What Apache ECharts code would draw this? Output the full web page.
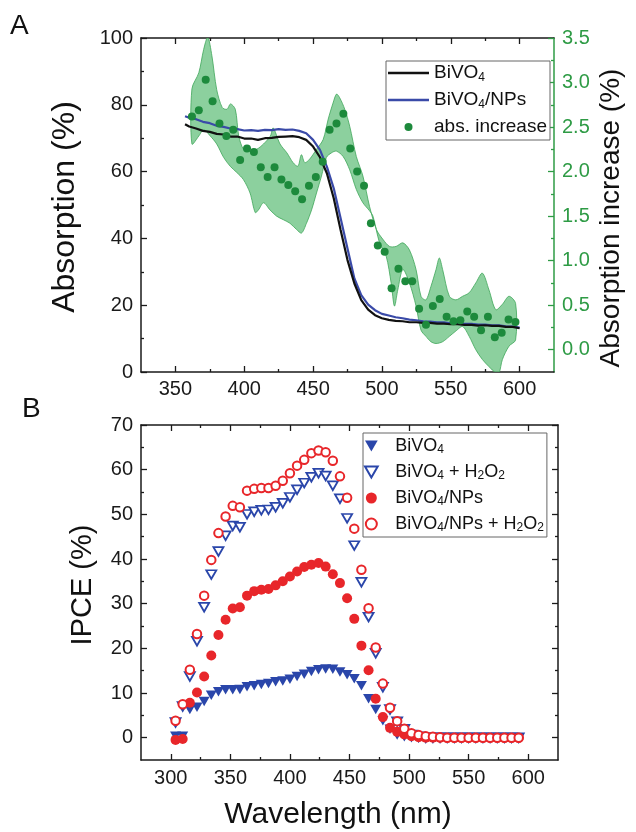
<!DOCTYPE html>
<html><head><meta charset="utf-8">
<script src="https://cdn.jsdelivr.net/npm/echarts@6.0.0/dist/echarts.min.js"></script>
<style>html,body{margin:0;padding:0;background:#fff}#c{width:636px;height:832px}</style>
</head><body><div id="c"></div>
<script>
// ---------- Panel A data ----------
const absWl = [357,360,365,370,375,380,385,390,395,400,405,410,415,420,425,430,435,440,445,450,455,460,465,470,475,480,485,490,495,500,505,510,515,520,525,530,535,540,545,550,555,560,565,570,575,580,585,590,595,600];
const absBiVO4 = [74.2,73.5,72.9,72.2,71.9,71.3,71.1,70.5,70.5,69.9,69.9,69.5,70.0,70.1,70.4,70.5,70.6,70.3,69.5,67.5,64.3,59.5,52.0,42.5,33.5,26.5,21.5,18.7,17.0,16.1,15.6,15.3,15.2,14.9,14.9,14.7,14.7,14.5,14.5,14.3,14.3,14.1,14.1,13.9,14.0,13.8,13.8,13.5,13.5,13.1];
const absNPs = [76.6,76.1,75.7,74.9,74.5,73.7,73.4,72.9,72.7,72.3,72.4,72.2,72.5,72.4,72.7,72.5,72.6,72.2,71.5,69.5,66.5,61.5,55.0,46.0,37.0,28.0,23.0,20.2,18.5,17.4,16.9,16.4,16.1,15.7,15.5,15.2,15.1,14.9,14.9,14.6,14.6,14.4,14.4,14.2,14.2,14.0,14.0,13.7,13.6,13.3];
const incWl = [362,367,372,377,382,387,392,397,402,407,412,417,422,427,432,437,442,447,452,457,462,467,472,477,482,487,492,497,502,507,512,517,522,527,532,537,542,547,552,557,562,567,572,577,582,587,592,597];
const incValues = [2.62,2.69,3.03,2.79,2.54,2.40,2.47,2.13,2.26,2.22,2.05,1.94,2.05,1.91,1.85,1.78,1.69,1.84,1.94,2.11,2.47,2.54,2.65,2.26,2.00,1.84,1.42,1.17,1.10,0.69,0.91,0.77,0.77,0.46,0.28,0.49,0.57,0.37,0.32,0.33,0.43,0.37,0.22,0.37,0.14,0.19,0.34,0.31];
const bandUpperWl = [362,367,370.5,373.5,376.5,380,384,387.5,390,393.5,396,399.5,404,409,414,419,421,426,431,435.5,439,441.5,444,447.5,452.5,457.3,461,464.5,467,469.3,473,476.6,481.4,486.2,491,496,500.7,505.5,510.3,515.2,520,524.8,528.4,532,535.6,539.3,541.7,544.1,549,553.7,558.6,563.4,568.2,573,577.8,582.7,587.5,592.3,597.1];
const bandUpperVal = [2.93,3.11,3.37,3.51,3.30,2.92,2.72,2.70,2.76,2.70,2.40,2.25,2.23,2.25,2.31,2.40,2.49,2.31,2.21,2.10,2.06,2.19,2.10,2.14,2.25,2.36,2.59,2.77,2.87,2.83,2.70,2.51,2.17,1.95,1.61,1.35,1.24,1.16,1.16,1.20,1.12,0.90,0.60,0.56,0.71,0.90,1.03,0.90,0.60,0.56,0.60,0.64,0.75,0.86,0.67,0.45,0.51,0.60,0.52];
const bandLowerWl = [362,367,370.5,375.3,380,385,389.8,394.6,399.4,404.2,408,410.3,414,418.7,423.5,428.4,433.2,438,441.6,445.2,448.9,452.5,456.1,459.7,463.3,466.9,471.8,476.6,481.4,486.2,491,493.5,498.3,503.1,506.7,509.1,511.5,515.2,520,524.8,528.4,532,535.6,539.3,544.1,549,553.7,558.6,563.4,568.2,573,577.8,582.7,585.1,587.5,592.3,597.1];
const bandLowerVal = [2.31,2.40,2.47,2.40,2.31,2.16,2.06,1.99,1.91,1.76,1.54,1.57,1.65,1.57,1.50,1.46,1.42,1.35,1.31,1.42,1.57,1.76,1.95,2.16,2.21,2.23,2.17,2.02,1.80,1.65,1.56,1.50,1.20,1.05,0.75,0.49,0.67,0.90,0.75,0.49,0.22,0.15,0.09,0.07,0.09,0.15,0.21,0.26,0.15,0.00,-0.11,-0.19,-0.26,-0.26,-0.11,0.04,0.11];

// ---------- Panel B data ----------
const ipceWl = [304,310,316,322,328,334,340,346,352,358,364,370,376,382,388,394,400,406,412,418,424,430,436,442,448,454,460,466,472,478,484,490,496,502,508,514,520,526,532,538,544,550,556,562,568,574,580,586,592];
const ipceBiVO4 = [0.3,0.3,6.3,6.8,8.1,9.5,10.3,10.7,10.7,10.8,11.4,11.6,11.9,12.1,12.5,12.7,13.1,13.7,14.2,14.8,15.2,15.4,15.3,14.7,14.1,13.2,11.6,8.7,6.3,3.8,1.9,0.6,0.2,0.0,-0.1,-0.1,-0.1,-0.1,-0.1,-0.1,-0.1,-0.1,-0.1,-0.1,-0.1,-0.1,-0.1,-0.1,-0.1];
const ipceBiVO4H2O2 = [3.4,7.0,13.7,21.6,29.2,36.5,41.7,45.2,47.4,47.1,50.0,50.6,50.9,51.0,51.6,52.5,53.8,55.5,57.0,58.3,59.2,58.6,56.4,53.5,49.1,43.0,34.8,27.0,18.9,11.3,6.3,3.6,1.9,0.6,0.2,0.0,0.0,0.0,0.0,0.0,0.0,0.0,0.0,0.0,0.0,0.0,0.0,0.0,0.0];
const ipceNPs = [-0.5,-0.3,7.8,10.1,13.7,18.4,23.0,26.4,28.9,29.2,31.8,32.8,33.1,33.3,34.1,35.0,36.1,37.2,38.2,38.7,39.1,38.3,36.6,34.6,31.2,26.6,20.6,15.1,8.7,4.6,2.2,1.3,0.7,0.3,0.1,0.0,0.0,0.0,0.0,0.0,0.0,0.0,0.0,0.0,0.0,0.0,0.0,0.0,0.0];
const ipceNPsH2O2 = [3.8,7.5,15.2,23.2,31.8,39.8,45.8,49.5,51.9,51.6,55.3,55.7,55.9,55.9,56.4,57.5,59.2,60.9,62.2,63.7,64.3,63.9,62.0,58.5,53.7,46.8,37.6,29.0,20.2,12.1,6.7,3.7,2.0,1.0,0.6,0.3,0.2,0.1,0.0,0.0,0.0,0.0,0.0,0.0,0.0,0.0,0.0,0.0,0.0];

// ---------- tick values ----------
const xTicksA = [350,400,450,500,550,600];
const xMinorA = [375,425,475,525,575];
const yTicksA = [0,20,40,60,80,100];
const yMinorA = [10,30,50,70,90];
const yTicksAR = [0,0.5,1.0,1.5,2.0,2.5,3.0,3.5];
const yMinorAR = [0.25,0.75,1.25,1.75,2.25,2.75,3.25];
const xTicksB = [300,350,400,450,500,550,600];
const xMinorB = [325,375,425,475,525,575];
const yTicksB = [0,10,20,30,40,50,60,70];
const yMinorB = [5,15,25,35,45,55,65];

const FONT = '"Liberation Sans", Arial, Helvetica, sans-serif';
const INK = '#1a1a1a';
const GREEN = '#2e9b45';
const BLUE_LINE = '#3a4aa8';
const BLUE = '#2a46aa';
const RED = '#e8262a';

function zip(a, b) { return a.map((v, i) => [v, b[i]]); }

function mkAxis(grid, pos, min, max, ticks, len, o) {
  o = o || {};
  const color = o.color || INK;
  return {
    type: 'value', gridIndex: grid, position: pos, min: min, max: max,
    splitLine: { show: false },
    axisLine: { show: !!o.line, onZero: false, lineStyle: { color: color, width: 1.5 } },
    axisTick: { show: true, inside: true, length: len, customValues: ticks, lineStyle: { color: color, width: 1.3 } },
    axisLabel: o.labels ? {
      show: true, customValues: ticks, fontSize: o.fontSize || 20, color: o.labelColor || INK,
      fontFamily: FONT, margin: o.margin || 8, formatter: o.formatter
    } : { show: false },
    axisPointer: { show: false }
  };
}

const richBase = (fs, lh) => ({
  t: { fontSize: fs, lineHeight: lh, fontFamily: FONT, color: '#111' },
  s: { fontSize: Math.round(fs * 0.65), lineHeight: Math.round(lh * 0.45), verticalAlign: 'bottom', fontFamily: FONT, color: '#111' }
});
const legendLabels = {
  'A_BiVO4': '{t|BiVO}{s|4}',
  'A_NPs': '{t|BiVO}{s|4}{t|/NPs}',
  'A_inc': '{t|abs. increase}',
  'B_BiVO4': '{t|BiVO}{s|4}',
  'B_BiVO4H2O2': '{t|BiVO}{s|4}{t| + H}{s|2}{t|O}{s|2}',
  'B_NPs': '{t|BiVO}{s|4}{t|/NPs}',
  'B_NPsH2O2': '{t|BiVO}{s|4}{t|/NPs + H}{s|2}{t|O}{s|2}'
};

const triDown = 'path://M0,0L10,0L5,8.66Z';
const lineIcon = 'path://M0,0L40,0L40,2.2L0,2.2Z';

const chart = echarts.init(document.getElementById('c'), null, { renderer: 'canvas' });
chart.setOption({
  animation: false,
  backgroundColor: '#fff',
  grid: [
    { left: 141, top: 38, width: 413, height: 334, containLabel: false },
    { left: 141, top: 425, width: 417, height: 335, containLabel: false }
  ],
  xAxis: [
    mkAxis(0, 'bottom', 325, 625, xTicksA, 6, { line: true, labels: true, margin: 7 }),
    mkAxis(0, 'bottom', 325, 625, xMinorA, 3, {}),
    mkAxis(0, 'top', 325, 625, xTicksA, 6, { line: true }),
    mkAxis(0, 'top', 325, 625, xMinorA, 3, {}),
    mkAxis(1, 'bottom', 275, 625, xTicksB, 6, { line: true, labels: true, margin: 8 }),
    mkAxis(1, 'bottom', 275, 625, xMinorB, 3, {}),
    mkAxis(1, 'top', 275, 625, xTicksB, 6, { line: true }),
    mkAxis(1, 'top', 275, 625, xMinorB, 3, {})
  ],
  yAxis: [
    mkAxis(0, 'left', 0, 100, yTicksA, 6, { line: true, labels: true, margin: 8 }),
    mkAxis(0, 'left', 0, 100, yMinorA, 3, {}),
    mkAxis(0, 'right', -0.25, 3.5, yTicksAR, 6, { line: true, labels: true, color: GREEN, labelColor: GREEN, margin: 8, formatter: v => Number(v).toFixed(1) }),
    mkAxis(0, 'right', -0.25, 3.5, yMinorAR, 3, { color: GREEN }),
    mkAxis(1, 'left', -5, 70, yTicksB, 6, { line: true, labels: true, margin: 8 }),
    mkAxis(1, 'left', -5, 70, yMinorB, 3, {}),
    mkAxis(1, 'right', -5, 70, yTicksB, 6, { line: true }),
    mkAxis(1, 'right', -5, 70, yMinorB, 3, {})
  ],
  legend: [
    {
      orient: 'vertical', left: 386, top: 61, padding: [1, 3, 2, 2], itemGap: 5,
      itemWidth: 41, itemHeight: 8, selectedMode: false,
      backgroundColor: '#fff', borderColor: '#666', borderWidth: 1,
      data: [
        { name: 'A_BiVO4', icon: lineIcon },
        { name: 'A_NPs', icon: lineIcon },
        { name: 'A_inc', icon: 'circle' }
      ],
      formatter: n => legendLabels[n],
      textStyle: { fontFamily: FONT, fontSize: 19, lineHeight: 22, color: '#111', rich: richBase(19, 22) }
    },
    {
      orient: 'vertical', left: 363, top: 433, padding: [3, 3, 3, 1], itemGap: 6,
      itemWidth: 38, itemHeight: 11, selectedMode: false,
      backgroundColor: '#fff', borderColor: '#666', borderWidth: 1,
      data: ['B_BiVO4', 'B_BiVO4H2O2', 'B_NPs', 'B_NPsH2O2'],
      formatter: n => legendLabels[n],
      textStyle: { fontFamily: FONT, fontSize: 18, lineHeight: 20, color: '#111', rich: richBase(18, 20) }
    }
  ],
  series: [
    {
      type: 'custom', name: 'band', xAxisIndex: 0, yAxisIndex: 2, z: 1,
      data: [[bandUpperWl[0], bandUpperVal[0]]],
      renderItem: function (params, api) {
        const up = bandUpperWl.map((w, i) => api.coord([w, bandUpperVal[i]]));
        const lo = bandLowerWl.map((w, i) => api.coord([w, bandLowerVal[i]])).reverse();
        const cs = params.coordSys;
        return {
          type: 'polygon',
          shape: { points: up.concat(lo), smooth: 0.3 },
          style: { fill: 'rgba(95,190,120,0.72)', stroke: '#3fa659', lineWidth: 0.8 },
          clipPath: { type: 'rect', shape: { x: cs.x, y: cs.y, width: cs.width, height: cs.height } }
        };
      }
    },
    {
      type: 'line', name: 'A_BiVO4', xAxisIndex: 0, yAxisIndex: 0, z: 3,
      data: zip(absWl, absBiVO4), symbol: 'none', color: '#111',
      lineStyle: { color: '#111', width: 2.2 }
    },
    {
      type: 'line', name: 'A_NPs', xAxisIndex: 0, yAxisIndex: 0, z: 2,
      data: zip(absWl, absNPs), symbol: 'none', color: BLUE_LINE,
      lineStyle: { color: BLUE_LINE, width: 2.2 }
    },
    {
      type: 'scatter', name: 'A_inc', xAxisIndex: 0, yAxisIndex: 2, z: 4,
      data: zip(incWl, incValues), symbol: 'circle', symbolSize: 8,
      itemStyle: { color: '#1d8a3c', opacity: 1 }
    },
    {
      type: 'scatter', name: 'B_BiVO4', xAxisIndex: 4, yAxisIndex: 4, z: 2,
      data: zip(ipceWl, ipceBiVO4), symbol: triDown, symbolSize: [11, 9.5],
      itemStyle: { color: BLUE, opacity: 1 }
    },
    {
      type: 'scatter', name: 'B_BiVO4H2O2', xAxisIndex: 4, yAxisIndex: 4, z: 3,
      data: zip(ipceWl, ipceBiVO4H2O2), symbol: triDown, symbolSize: [10, 8.7],
      itemStyle: { color: '#fff', borderColor: BLUE, borderWidth: 1.8, opacity: 1 }
    },
    {
      type: 'scatter', name: 'B_NPs', xAxisIndex: 4, yAxisIndex: 4, z: 4,
      data: zip(ipceWl, ipceNPs), symbol: 'circle', symbolSize: 10,
      itemStyle: { color: RED, opacity: 1 }
    },
    {
      type: 'scatter', name: 'B_NPsH2O2', xAxisIndex: 4, yAxisIndex: 4, z: 5,
      data: zip(ipceWl, ipceNPsH2O2), symbol: 'circle', symbolSize: 8.5,
      itemStyle: { color: '#fff', borderColor: RED, borderWidth: 2, opacity: 1 }
    }
  ],
  graphic: [
    { type: 'text', left: 10, top: 12, style: { text: 'A', fontSize: 28, fontFamily: FONT, fill: '#111' } },
    { type: 'text', left: 22, top: 395, style: { text: 'B', fontSize: 28, fontFamily: FONT, fill: '#111' } },
    { type: 'text', x: 65, y: 207, rotation: Math.PI / 2,
      style: { text: 'Absorption (%)', fontSize: 32, fontFamily: FONT, fill: '#111', align: 'center', verticalAlign: 'middle' } },
    { type: 'text', x: 611, y: 218, rotation: Math.PI / 2,
      style: { text: 'Absorption increase (%)', fontSize: 28, fontFamily: FONT, fill: '#111', align: 'center', verticalAlign: 'middle' } },
    { type: 'text', x: 83, y: 585, rotation: Math.PI / 2,
      style: { text: 'IPCE (%)', fontSize: 29, fontFamily: FONT, fill: '#111', align: 'center', verticalAlign: 'middle' } },
    { type: 'text', x: 338, y: 815,
      style: { text: 'Wavelength (nm)', fontSize: 30, fontFamily: FONT, fill: '#111', align: 'center', verticalAlign: 'middle' } }
  ]
});
</script></body></html>
